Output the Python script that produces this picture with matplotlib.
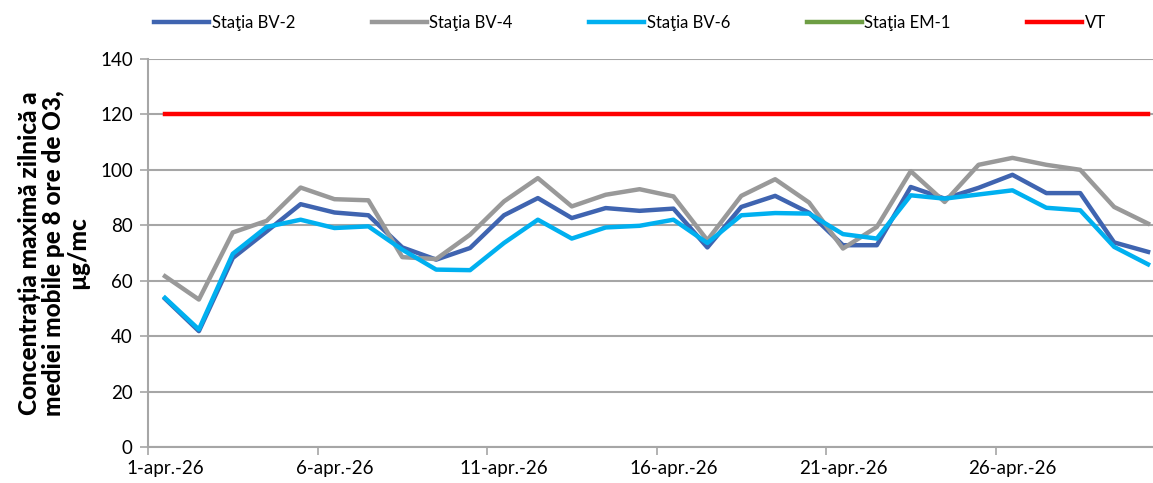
import matplotlib.pyplot as plt
from matplotlib.ticker import FixedLocator

plt.rcParams['font.family'] = ['Lato', 'DejaVu Sans']

# data, one value per day, 1..30 April
days = list(range(1, 31))
bv2 = [53.5, 41.8, 68.2, 77.8, 87.6, 84.6, 83.6, 72.0, 67.6, 71.8,
       83.6, 89.8, 82.6, 86.2, 85.2, 86.0, 72.0, 86.6, 90.6, 84.5,
       72.8, 72.8, 93.8, 89.6, 93.5, 98.2, 91.6, 91.6, 73.8, 70.4]
bv4 = [61.6, 53.2, 77.4, 81.6, 93.6, 89.4, 89.0, 68.5, 67.8, 76.6,
       88.6, 97.0, 86.8, 91.0, 93.0, 90.4, 74.6, 90.6, 96.6, 88.2,
       71.6, 79.4, 99.5, 88.4, 101.8, 104.3, 101.8, 100.0, 86.6, 80.6]
bv6 = [53.8, 42.4, 69.7, 79.4, 82.0, 79.0, 79.6, 71.2, 64.0, 63.8,
       73.6, 82.0, 75.2, 79.2, 79.8, 82.0, 73.6, 83.6, 84.4, 84.2,
       76.8, 75.2, 90.8, 89.6, 91.1, 92.6, 86.3, 85.4, 72.2, 65.9]
em1 = []  # no data in the chart
vt = [120] * 30
labeled_days = [1, 6, 11, 16, 21, 26]
tick_text = ['1-apr.-26', '6-apr.-26', '11-apr.-26', '16-apr.-26', '21-apr.-26', '26-apr.-26']

fig = plt.figure(figsize=(11.53, 4.83), dpi=100)
ax = fig.add_axes([0.1284, 0.0745, 0.882, 0.8035])

ax.plot(days, bv2, color='#3F64B0', lw=3.2, label='Staţia BV-2', solid_joinstyle='round')
ax.plot(days, bv4, color='#999999', lw=3.2, label='Staţia BV-4', solid_joinstyle='round')
ax.plot(days, bv6, color='#00B0F0', lw=3.2, label='Staţia BV-6', solid_joinstyle='round')
ax.plot(em1, em1, color='#6E9E44', lw=3.2, label='Staţia EM-1')
ax.plot(days, vt, color='#FF0000', lw=3.2, label='VT')

ax.set_xlim(0.5, 30.5)
ax.set_ylim(0, 140)
ax.set_yticks(range(0, 141, 20))
ax.yaxis.grid(True, color='#A6A6A6', lw=1.5)
ax.set_axisbelow(True)

ax.set_xticks(labeled_days)
ax.set_xticklabels(tick_text)
ax.xaxis.set_minor_locator(FixedLocator([d - 0.5 for d in labeled_days]))
ax.tick_params(axis='x', which='major', length=0, pad=9)
ax.tick_params(axis='x', which='minor', length=6, width=1.2, color='#A6A6A6')
ax.tick_params(axis='y', length=6, width=1.2, color='#A6A6A6', pad=5)
ax.tick_params(labelsize=13.5)

for s in ['top', 'right']:
    ax.spines[s].set_visible(False)
for s in ['left', 'bottom']:
    ax.spines[s].set_color('#A6A6A6')
    ax.spines[s].set_linewidth(1.5)

ax.set_ylabel('Concentrația maximă zilnică a\nmediei mobile pe 8 ore de O3,\nµg/mc',
              fontsize=17.5, fontweight='black', linespacing=1.05, labelpad=8)

fig.legend(loc='center left', bbox_to_anchor=(0.128, 0.952), ncol=5, frameon=False,
           fontsize=12, handlelength=3.3, handletextpad=0.15, columnspacing=4.6,
           borderaxespad=0)

fig.savefig('out.png', dpi=100)
